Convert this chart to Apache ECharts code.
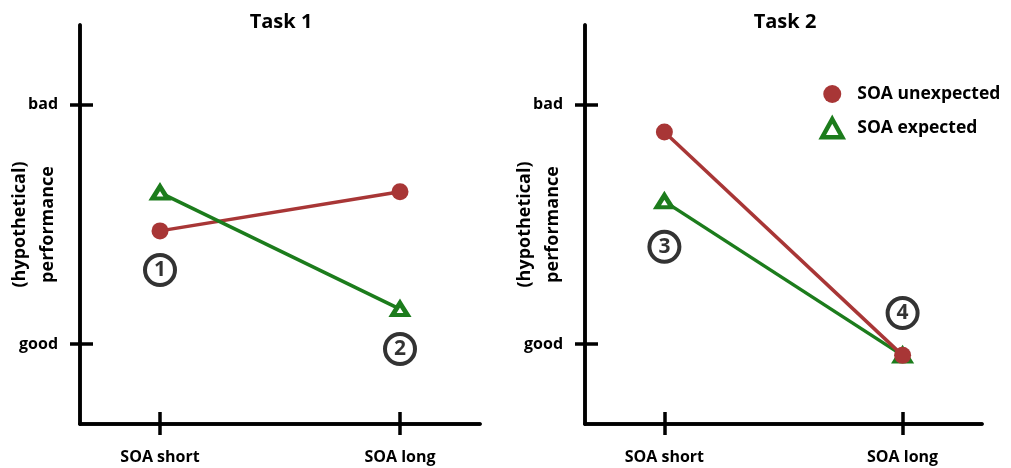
<!DOCTYPE html>
<html>
<head>
<meta charset="utf-8">
<script src="https://cdn.jsdelivr.net/npm/echarts@6/dist/echarts.min.js"></script>
<style>
html,body{margin:0;padding:0;background:#fff;}
#chart{width:1011px;height:468px;}
</style>
</head>
<body>
<div id="chart"></div>
<script>
// ---- data ----
const categories = ['SOA short', 'SOA long'];
const panelTitles = ['Task 1', 'Task 2'];
const yTickValues = [1, 4];
const yTickLabels = ['good', 'bad'];
const seriesNames = ['SOA unexpected', 'SOA expected'];
const task1Unexpected = [2.42, 2.91];
const task1Expected = [2.90, 1.44];
const task2Unexpected = [3.66, 0.86];
const task2Expected = [2.79, 0.86];
const task1AnnotLabels = ['1', '2'];
const task1AnnotY = [1.93, 0.94];
const task2AnnotLabels = ['3', '4'];
const task2AnnotY = [2.22, 1.39];

// ---- styles ----
const RED = '#a83636';
const GREEN = '#1c7c1c';
const FONT = '"Open Sans", sans-serif';
const catIdx = categories.map((c, i) => i);

function pts(vals) { return vals.map((v, i) => [catIdx[i], v]); }
function annot(ys, labels) { return ys.map((v, i) => [catIdx[i], v, labels[i]]); }

function xAxes(gridIndex) {
  const base = {
    type: 'value', gridIndex, min: -1/3, max: 4/3, position: 'bottom',
    splitLine: { show: false },
    axisLine: { show: true, onZero: false, lineStyle: { color: '#000', width: 3.5 } },
    axisTick: { show: true, customValues: catIdx, length: 11, lineStyle: { color: '#000', width: 3.5 } },
  };
  return [
    Object.assign({}, base, {
      axisLabel: { show: true, customValues: catIdx, margin: 25, formatter: v => categories[Math.round(v)] || '',
        color: '#000', fontFamily: FONT, fontWeight: 'bold', fontSize: 16 }
    }),
    Object.assign({}, base, {
      axisTick: { show: true, inside: true, customValues: catIdx, length: 12, lineStyle: { color: '#000', width: 3.5 } },
      axisLabel: { show: false }
    })
  ];
}
function yAxes(gridIndex) {
  const base = {
    type: 'value', gridIndex, min: 0, max: 5, position: 'left',
    splitLine: { show: false },
    axisLine: { show: true, onZero: false, lineStyle: { color: '#000', width: 3.5 } },
    axisTick: { show: true, customValues: yTickValues, length: 10, lineStyle: { color: '#000', width: 3.5 } },
  };
  return [
    Object.assign({}, base, {
      name: '(hypothetical)\nperformance', nameLocation: 'middle', nameGap: 18, nameRotate: 90,
      nameMoveOverlap: false,
      nameTextStyle: { color: '#000', fontFamily: FONT, fontWeight: 'bold', fontSize: 18, lineHeight: 28 },
      axisLabel: { show: true, customValues: yTickValues, margin: 22,
        formatter: v => yTickLabels[yTickValues.indexOf(v)] || '',
        color: '#000', fontFamily: FONT, fontWeight: 'bold', fontSize: 16 }
    }),
    Object.assign({}, base, {
      axisTick: { show: true, inside: true, customValues: yTickValues, length: 13, lineStyle: { color: '#000', width: 3.5 } },
      axisLabel: { show: false }
    })
  ];
}

function lineSeries(name, data, color, hollow, xi, yi, z) {
  return {
    name, type: 'line', data: pts(data), xAxisIndex: xi, yAxisIndex: yi, z,
    symbol: hollow ? 'triangle' : 'circle',
    symbolSize: hollow ? [15, 12] : 17,
    lineStyle: { color, width: 3.5 },
    itemStyle: hollow ? { color: '#fff', borderColor: color, borderWidth: 4.5 } : { color, borderWidth: 0 },
    emphasis: { disabled: true }, animation: false
  };
}
function annotSeries(ys, labels, xi, yi) {
  return {
    type: 'scatter', data: annot(ys, labels), xAxisIndex: xi, yAxisIndex: yi, z: 10,
    symbol: 'circle', symbolSize: 30,
    itemStyle: { color: '#fff', borderColor: '#000', borderWidth: 4 },
    label: { show: true, position: 'inside', formatter: p => p.data[2], color: '#000',
      fontFamily: FONT, fontWeight: 'bold', fontSize: 21 },
    emphasis: { disabled: true }, animation: false
  };
}

const chart = echarts.init(document.getElementById('chart'), null, { renderer: 'canvas' });
chart.setOption({
  backgroundColor: '#fff',
  animation: false,
  title: [
    { text: panelTitles[0], left: 281, top: 12, textAlign: 'center', padding: 0,
      textStyle: { color: '#000', fontFamily: FONT, fontWeight: 'bold', fontSize: 20 } },
    { text: panelTitles[1], left: 785, top: 12, textAlign: 'center', padding: 0,
      textStyle: { color: '#000', fontFamily: FONT, fontWeight: 'bold', fontSize: 20 } }
  ],
  legend: {
    orient: 'vertical', left: 820, top: 85, padding: 0, itemGap: 14,
    itemWidth: 20, itemHeight: 18,
    data: [
      { name: seriesNames[0], icon: 'circle', itemStyle: { color: RED, borderWidth: 0 } },
      { name: seriesNames[1], icon: 'triangle', itemStyle: { color: '#fff', borderColor: GREEN, borderWidth: 4.5 } }
    ],
    textStyle: { color: '#000', fontFamily: FONT, fontWeight: 'bold', fontSize: 17.5, padding: [0, 0, 0, 10] }
  },
  grid: [
    { left: 80, top: 25, width: 400, height: 399, outerBoundsMode: 'none', containLabel: false },
    { left: 585, top: 25, width: 397, height: 399, outerBoundsMode: 'none', containLabel: false }
  ],
  xAxis: [...xAxes(0), ...xAxes(1)],
  yAxis: [...yAxes(0), ...yAxes(1)],
  series: [
    lineSeries(seriesNames[0], task1Unexpected, RED, false, 0, 0, 2),
    lineSeries(seriesNames[1], task1Expected, GREEN, true, 0, 0, 3),
    annotSeries(task1AnnotY, task1AnnotLabels, 0, 0),
    lineSeries(seriesNames[1], task2Expected, GREEN, true, 2, 2, 2),
    lineSeries(seriesNames[0], task2Unexpected, RED, false, 2, 2, 3),
    annotSeries(task2AnnotY, task2AnnotLabels, 2, 2)
  ]
});
</script>
</body>
</html>
